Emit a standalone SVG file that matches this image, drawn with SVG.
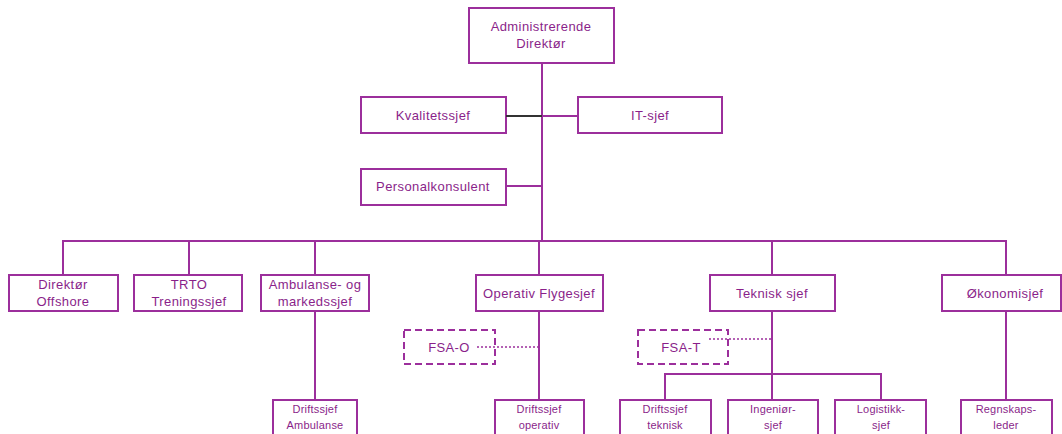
<svg xmlns="http://www.w3.org/2000/svg" width="1062" height="434" viewBox="0 0 1062 434">
<style>
.b{fill:#fff;stroke:#9c2f9c;stroke-width:2}
.d{fill:#fff;stroke:#9c2f9c;stroke-width:2;stroke-dasharray:7 4}
.l{fill:none;stroke:#9c2f9c;stroke-width:2}
.k{fill:none;stroke:#333;stroke-width:2}
.dot{fill:none;stroke:#9c2f9c;stroke-width:1.5;stroke-dasharray:2 2}
text{font-family:"Liberation Sans",Arial,sans-serif;fill:#8a1f8a;text-anchor:middle;font-size:13px;letter-spacing:0.4px}
.s{font-size:11px;letter-spacing:0.2px}
</style>
<rect width="1062" height="434" fill="#fff"/>
<g id="adm"><rect class="b" x="469" y="8" width="145" height="55"/><text x="541" y="31">Administrerende</text><text x="541" y="48">Direktør</text></g>
<g id="kval"><rect class="b" x="361" y="97" width="145" height="36"/><text x="433" y="120">Kvalitetssjef</text></g>
<g id="it"><rect class="b" x="578" y="97" width="144" height="36"/><text x="650" y="120">IT-sjef</text></g>
<g id="pers"><rect class="b" x="361" y="169" width="145" height="36"/><text x="433" y="191">Personalkonsulent</text></g>
<g id="offshore"><rect class="b" x="9" y="275" width="109" height="36"/><text x="63" y="289">Direktør</text><text x="63" y="306">Offshore</text></g>
<g id="trto"><rect class="b" x="134" y="275" width="108" height="36"/><text x="189" y="289">TRTO</text><text x="189" y="306">Treningssjef</text></g>
<g id="amb"><rect class="b" x="261" y="275" width="108" height="36"/><text x="315" y="289">Ambulanse- og</text><text x="315" y="306">markedssjef</text></g>
<g id="ops"><rect class="b" x="476" y="275" width="127" height="36"/><text x="539" y="298">Operativ Flygesjef</text></g>
<g id="tek"><rect class="b" x="710" y="275" width="125" height="36"/><text x="772" y="298">Teknisk sjef</text></g>
<g id="oko"><rect class="b" x="942" y="275" width="119" height="36"/><text x="1005" y="298">Økonomisjef</text></g>
<g id="fsao"><rect class="d" x="404" y="330" width="91" height="34"/><text x="449" y="352">FSA-O</text></g>
<g id="fsat"><rect class="d" x="638" y="330" width="90" height="34"/><text x="681" y="352">FSA-T</text></g>
<g id="dambu"><rect class="b" x="273" y="400" width="84" height="44"/><text class="s" x="315" y="413">Driftssjef</text><text class="s" x="315" y="429">Ambulanse</text></g>
<g id="dops"><rect class="b" x="495" y="400" width="89" height="44"/><text class="s" x="539" y="413">Driftssjef</text><text class="s" x="539" y="429">operativ</text></g>
<g id="dtek"><rect class="b" x="620" y="400" width="91" height="44"/><text class="s" x="665" y="413">Driftssjef</text><text class="s" x="665" y="429">teknisk</text></g>
<g id="ing"><rect class="b" x="728" y="400" width="90" height="44"/><text class="s" x="773" y="413">Ingeniør-</text><text class="s" x="773" y="429">sjef</text></g>
<g id="log"><rect class="b" x="835" y="400" width="91" height="44"/><text class="s" x="881" y="413">Logistikk-</text><text class="s" x="881" y="429">sjef</text></g>
<g id="regn"><rect class="b" x="961" y="400" width="91" height="44"/><text class="s" x="1006" y="413">Regnskaps-</text><text class="s" x="1006" y="429">leder</text></g>
<g id="connectors">
<path class="l" d="M542 63V241"/>
<path class="k" d="M506 116H542"/>
<path class="l" d="M542 116H578"/>
<path class="l" d="M506 186H542"/>
<path class="l" d="M63 275V241H1006V275M189 241V275M315 241V275M539 241V275M772 241V275"/>
<path class="l" d="M315 311V400"/>
<path class="l" d="M539 311V400"/>
<path class="l" d="M772 311V400M665 400V374H881V400"/>
<path class="l" d="M1006 311V400"/>
<path class="dot" d="M477 347H539"/>
<path class="dot" d="M709 339H772"/>
</g>
</svg>
